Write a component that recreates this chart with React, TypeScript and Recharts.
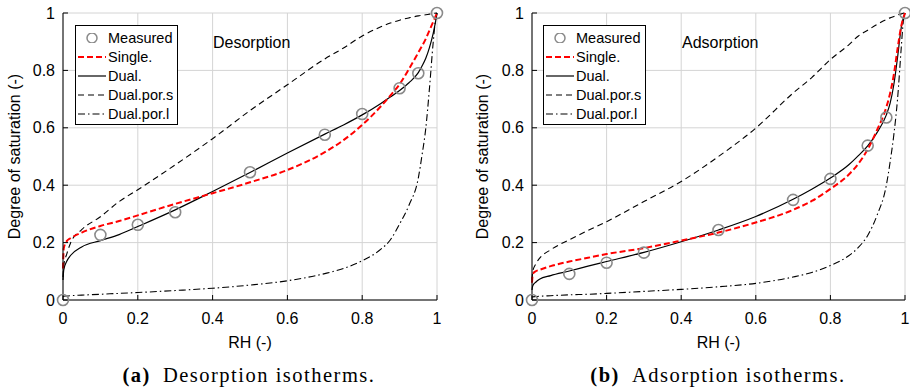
import {
  ComposedChart,
  Line,
  XAxis,
  YAxis,
  CartesianGrid,
  Legend,
} from "recharts";

// relative humidity grid shared by every curve
const RH = [0, 0.002, 0.01, 0.02, 0.05, 0.1, 0.15, 0.2, 0.3, 0.4, 0.5, 0.6, 0.7, 0.75, 0.8, 0.85, 0.875, 0.9, 0.925, 0.95, 0.96, 0.97, 0.98, 0.99, 0.995, 1];

// (a) desorption
const desMeasured = [0, null, null, null, null, 0.227, null, 0.262, 0.306, null, 0.445, null, 0.576, null, 0.648, null, null, 0.738, null, 0.79, null, null, null, null, null, 1];
const desSingle = [0.11, 0.18, 0.205, 0.215, 0.235, 0.258, 0.275, 0.295, 0.335, 0.372, 0.41, 0.453, 0.515, 0.557, 0.61, 0.675, 0.712, 0.752, 0.805, 0.862, 0.885, 0.91, 0.94, 0.97, 0.985, 1];
const desDual = [0.07, 0.105, 0.135, 0.155, 0.185, 0.207, 0.228, 0.256, 0.314, 0.378, 0.444, 0.512, 0.578, 0.61, 0.645, 0.685, 0.707, 0.73, 0.757, 0.792, 0.815, 0.842, 0.88, 0.93, 0.962, 1];
const desPorS = [0.08, 0.12, 0.16, 0.198, 0.245, 0.29, 0.343, 0.384, 0.471, 0.562, 0.66, 0.75, 0.84, 0.878, 0.92, 0.952, 0.965, 0.975, 0.983, 0.99, 0.992, 0.994, 0.996, 0.998, 0.999, 1];
const desPorL = [0.012, 0.013, 0.014, 0.015, 0.017, 0.02, 0.023, 0.026, 0.033, 0.041, 0.052, 0.067, 0.092, 0.11, 0.137, 0.177, 0.209, 0.265, 0.33, 0.425, 0.505, 0.598, 0.74, 0.9, 0.965, 1];

// (b) adsorption
const adsMeasured = [0, null, null, null, null, 0.091, null, 0.13, 0.165, null, 0.244, null, 0.349, null, 0.422, null, null, 0.538, null, 0.636, null, null, null, null, null, 1];
const adsSingle = [0.06, 0.09, 0.1, 0.105, 0.118, 0.134, 0.147, 0.16, 0.181, 0.207, 0.235, 0.27, 0.314, 0.345, 0.387, 0.438, 0.475, 0.525, 0.592, 0.672, 0.72, 0.785, 0.875, 0.955, 0.98, 1];
const adsDual = [0.035, 0.05, 0.062, 0.072, 0.085, 0.101, 0.118, 0.134, 0.166, 0.203, 0.244, 0.291, 0.351, 0.386, 0.425, 0.472, 0.503, 0.537, 0.583, 0.645, 0.685, 0.75, 0.845, 0.95, 0.98, 1];
const adsPorS = [0.07, 0.1, 0.125, 0.145, 0.175, 0.21, 0.242, 0.273, 0.343, 0.413, 0.5, 0.599, 0.721, 0.775, 0.838, 0.89, 0.92, 0.94, 0.96, 0.977, 0.983, 0.988, 0.993, 0.997, 0.999, 1];
const adsPorL = [0.01, 0.011, 0.012, 0.013, 0.015, 0.018, 0.02, 0.023, 0.03, 0.037, 0.046, 0.058, 0.08, 0.096, 0.12, 0.155, 0.183, 0.225, 0.295, 0.4, 0.48, 0.575, 0.7, 0.88, 0.965, 1];

const TICKS = [0, 0.2, 0.4, 0.6, 0.8, 1];
const LEGEND_NAMES = ["Measured", "Single.", "Dual.", "Dual.por.s", "Dual.por.l"];

const SANS = "'Liberation Sans', Arial, sans-serif";
const SERIF = "'Liberation Serif', 'Times New Roman', serif";

const STYLES = {
  single: { stroke: "#ff0000", width: 2, dash: "6 3" },
  dual: { stroke: "#000", width: 1.2, dash: undefined },
  porS: { stroke: "#000", width: 1.1, dash: "6 4" },
  porL: { stroke: "#000", width: 1.1, dash: "7 3 1.5 3" },
};

const buildRows = (m: (number | null)[], s: number[], d: number[], ps: number[], pl: number[]) =>
  RH.map((rh, i) => ({ rh, measured: m[i], single: s[i], dual: d[i], porS: ps[i], porL: pl[i] }));

const CircleDot = (props: any) => {
  const { cx, cy, value, index } = props;
  if (value == null || cy == null) return <g key={index} />;
  return <circle key={index} cx={cx} cy={cy} r={5.5} fill="none" stroke="#8a8a8a" strokeWidth={1.6} />;
};

const LegendBox = () => {
  const sample = (i: number) => {
    if (i === 0) return <circle cx={14} cy={5} r={5} fill="none" stroke="#8a8a8a" strokeWidth={1.5} />;
    const st = [STYLES.single, STYLES.dual, STYLES.porS, STYLES.porL][i - 1];
    return <line x1={0} y1={5} x2={28} y2={5} stroke={st.stroke} strokeWidth={st.width} strokeDasharray={st.dash} />;
  };
  return (
    <div style={{ border: "1px solid #000", background: "#fff", padding: "2px 4px 1px 2px", fontFamily: SANS, fontSize: 14.5, color: "#000" }}>
      {LEGEND_NAMES.map((name, i) => (
        <div key={name} style={{ display: "flex", alignItems: "center", height: 19 }}>
          <svg width={28} height={10} style={{ marginRight: 2 }}>{sample(i)}</svg>
          <span>{name}</span>
        </div>
      ))}
    </div>
  );
};

interface PanelProps {
  left: number;
  width: number;
  yAxisWidth: number;
  rightMargin: number;
  yLabelOffset: number;
  rows: ReturnType<typeof buildRows>;
  title: string;
  titleX: number;
  legendX: number;
}

function Panel({ left, width, yAxisWidth, rightMargin, yLabelOffset, rows, title, titleX, legendX }: PanelProps) {
  const tickStyle = { fill: "#000", fontSize: 16, fontFamily: SANS };
  return (
    <div style={{ position: "absolute", left, top: 0, width, height: 392 }}>
      <ComposedChart width={width} height={392} data={rows} margin={{ top: 13, right: rightMargin, bottom: 0, left: 0 }}>
        <CartesianGrid stroke="#d4d4d4" strokeWidth={1} />
        <XAxis
          dataKey="rh"
          type="number"
          domain={[0, 1]}
          ticks={TICKS}
          height={92}
          tick={tickStyle}
          tickSize={-5}
          tickMargin={18}
          stroke="#000"
          label={{ value: "RH (-)", position: "insideTop", offset: 37, style: { fill: "#000", fontSize: 16, fontFamily: SANS } }}
        />
        <XAxis xAxisId="top" orientation="top" dataKey="rh" type="number" domain={[0, 1]} ticks={TICKS} height={0} tick={false} tickSize={-5} stroke="#000" />
        <YAxis
          type="number"
          domain={[0, 1]}
          ticks={TICKS}
          width={yAxisWidth}
          tick={tickStyle}
          tickSize={-5}
          tickMargin={13}
          stroke="#000"
          label={{
            value: "Degree of saturation (-)",
            angle: -90,
            position: "insideLeft",
            offset: yLabelOffset,
            style: { textAnchor: "middle", fill: "#000", fontSize: 16, fontFamily: SANS },
          }}
        />
        <YAxis yAxisId="right" orientation="right" type="number" domain={[0, 1]} ticks={TICKS} width={0} tick={false} tickSize={-5} stroke="#000" />
        <Line dataKey="porL" type="monotone" stroke={STYLES.porL.stroke} strokeWidth={STYLES.porL.width} strokeDasharray={STYLES.porL.dash} dot={false} activeDot={false} isAnimationActive={false} />
        <Line dataKey="porS" type="monotone" stroke={STYLES.porS.stroke} strokeWidth={STYLES.porS.width} strokeDasharray={STYLES.porS.dash} dot={false} activeDot={false} isAnimationActive={false} />
        <Line dataKey="dual" type="monotone" stroke={STYLES.dual.stroke} strokeWidth={STYLES.dual.width} dot={false} activeDot={false} isAnimationActive={false} />
        <Line dataKey="single" type="monotone" stroke={STYLES.single.stroke} strokeWidth={STYLES.single.width} strokeDasharray={STYLES.single.dash} dot={false} activeDot={false} isAnimationActive={false} />
        <Line dataKey="measured" stroke="none" dot={CircleDot} activeDot={false} isAnimationActive={false} />
        <Legend
          layout="vertical"
          verticalAlign="middle"
          align="center"
          content={() => <LegendBox />}
          wrapperStyle={{ left: legendX, top: 25, width: "auto", height: "auto" }}
        />
      </ComposedChart>
      <div style={{ position: "absolute", left: titleX, top: 34, fontFamily: SANS, fontSize: 16, lineHeight: "18px" }}>{title}</div>
    </div>
  );
}

const Caption = ({ center, tag, text }: { center: number; tag: string; text: string }) => (
  <div style={{ position: "absolute", left: center - 170, width: 340, top: 364, textAlign: "center", fontFamily: SERIF, fontSize: 20.5, letterSpacing: 1.5, whiteSpace: "nowrap" }}>
    <b>{tag}</b>
    <span style={{ marginLeft: 12 }}>{text}</span>
  </div>
);

export default function App() {
  const desRows = buildRows(desMeasured, desSingle, desDual, desPorS, desPorL);
  const adsRows = buildRows(adsMeasured, adsSingle, adsDual, adsPorS, adsPorL);
  return (
    <div style={{ position: "fixed", left: 0, top: 0, width: 910, height: 392, background: "#fff", overflow: "hidden" }}>
      <Panel left={0} width={460} yAxisWidth={63} rightMargin={23} yLabelOffset={14} rows={desRows} title="Desorption" titleX={213} legendX={75} />
      <Panel left={455} width={455} yAxisWidth={77} rightMargin={5} yLabelOffset={27} rows={adsRows} title="Adsorption" titleX={227} legendX={88} />
      <Caption center={249} tag="(a)" text="Desorption isotherms." />
      <Caption center={718} tag="(b)" text="Adsorption isotherms." />
    </div>
  );
}
